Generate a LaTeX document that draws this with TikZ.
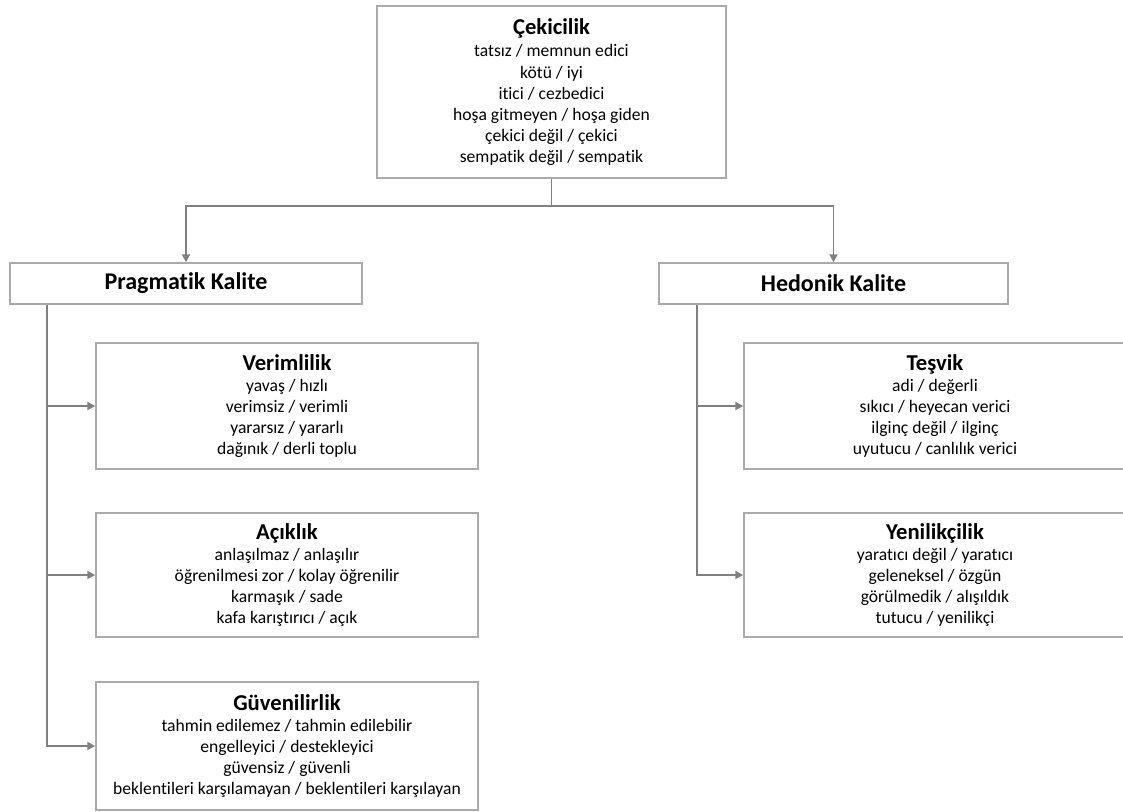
\documentclass[tikz,border=0pt]{standalone}
\usepackage{fontspec}
\setmainfont{Carlito}[Ligatures=NoCommon]
\usetikzlibrary{arrows.meta}
\definecolor{boxgray}{RGB}{170,170,170}
\definecolor{linegray}{RGB}{128,128,128}

\begin{document}
\begin{tikzpicture}[
  x=0.75pt,y=-0.75pt,
  box/.style={draw=boxgray,line width=1.1pt,fill=white,align=center,
    inner sep=0pt,font=\fontsize{13.2}{15.8}\selectfont},
  head/.style={box,minimum height=41*0.75pt,font=\fontsize{18}{20}\selectfont\bfseries},
  link/.style={draw=linegray,line width=1.4pt,-{Triangle[length=6pt,width=6pt]}},
  ]
  \useasboundingbox[fill=white] (0,0) rectangle (1123,812);

  \node[box,minimum width=349*0.75pt,minimum height=172*0.75pt] (cek) at (551.5,92)
    {{\fontsize{17}{19}\selectfont\bfseries Çekicilik}\\[1pt]
     tatsız / memnun edici\\ kötü / iyi\\ itici / cezbedici\\
     hoşa gitmeyen / hoşa giden\\ çekici değil / çekici\\ sempatik değil / sempatik};

  \node[head,minimum width=352*0.75pt] (prag) at (186,283.5) {Pragmatik Kalite};
  \node[head,minimum width=349*0.75pt] (hed) at (833.5,283.5) {Hedonik Kalite};

  % pragmatik
  \node[box,minimum width=382*0.75pt,minimum height=126*0.75pt] (ver) at (287,406)
    {{\fontsize{17}{18}\selectfont\bfseries Verimlilik}\\
     yavaş / hızlı\\ verimsiz / verimli\\ yararsız / yararlı\\ dağınık / derli toplu};
  \node[box,minimum width=382*0.75pt,minimum height=124*0.75pt] (acik) at (287,575)
    {{\fontsize{17}{18}\selectfont\bfseries Açıklık}\\
     anlaşılmaz / anlaşılır\\ öğrenilmesi zor / kolay öğrenilir\\ karmaşık / sade\\ kafa karıştırıcı / açık};
  \node[box,minimum width=382*0.75pt,minimum height=128*0.75pt] (guv) at (287,746)
    {{\fontsize{17}{18}\selectfont\bfseries Güvenilirlik}\\
     tahmin edilemez / tahmin edilebilir\\ engelleyici / destekleyici\\ güvensiz / güvenli\\
     beklentileri karşılamayan / beklentileri karşılayan};

  % hedonik
  \node[box,minimum width=382*0.75pt,minimum height=126*0.75pt] (tes) at (935,406)
    {{\fontsize{17}{18}\selectfont\bfseries Teşvik}\\
     adi / değerli\\ sıkıcı / heyecan verici\\ ilginç değil / ilginç\\ uyutucu / canlılık verici};
  \node[box,minimum width=382*0.75pt,minimum height=124*0.75pt] (yen) at (935,575)
    {{\fontsize{17}{18}\selectfont\bfseries Yenilikçilik}\\
     yaratıcı değil / yaratıcı\\ geleneksel / özgün\\ görülmedik / alışıldık\\ tutucu / yenilikçi};

  \coordinate (bus) at (0,206);
  \coordinate (trunkL) at (47,0);
  \coordinate (trunkR) at (697,0);

  \draw[link] (cek.south) -- (cek.south |- bus) -| (prag.north);
  \draw[link] (cek.south |- bus) -| (hed.north);

  \draw[link] (trunkL |- prag.south) |- (guv.west);
  \draw[link] (trunkL |- ver.west) -- (ver.west);
  \draw[link] (trunkL |- acik.west) -- (acik.west);

  \draw[link] (trunkR |- hed.south) |- (yen.west);
  \draw[link] (trunkR |- tes.west) -- (tes.west);
\end{tikzpicture}
\end{document}
